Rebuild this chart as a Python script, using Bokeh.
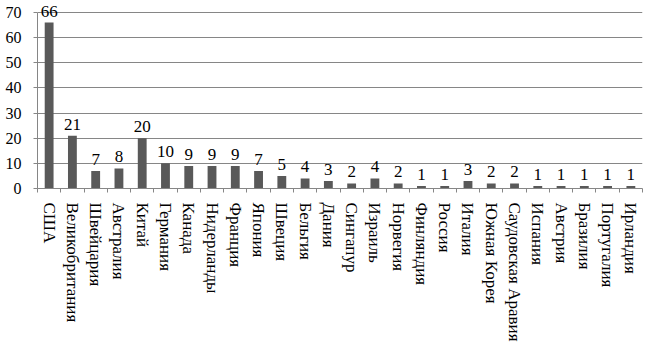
from bokeh.plotting import figure
from bokeh.models import ColumnDataSource, LabelSet, FixedTicker, Range1d
from bokeh.embed import file_html
from bokeh.resources import INLINE

countries = ["США", "Великобритания", "Швейцария", "Австралия", "Китай", "Германия",
             "Канада", "Нидерланды", "Франция", "Япония", "Швеция", "Бельгия", "Дания",
             "Сингапур", "Израиль", "Норвегия", "Финляндия", "Россия", "Италия",
             "Южная Корея", "Саудовская Аравия", "Испания", "Австрия", "Бразилия",
             "Португалия", "Ирландия"]
values = [66, 21, 7, 8, 20, 10, 9, 9, 9, 7, 5, 4, 3, 2, 4, 2, 1, 1, 3, 2, 2, 1, 1, 1, 1, 1]
y_ticks = [0, 10, 20, 30, 40, 50, 60, 70]

n = len(countries)
xs = list(range(1, n + 1))
src = ColumnDataSource(dict(x=xs, top=values, lab=[str(v) for v in values]))

FONT = "Liberation Serif"

p = figure(width=646, height=344, output_backend="svg", toolbar_location=None,
           x_range=Range1d(0.5, n + 0.5), y_range=Range1d(0, 74),
           min_border_left=37, min_border_right=4, min_border_top=2, min_border_bottom=0)
p.outline_line_color = None
p.background_fill_color = "white"
p.border_fill_color = "white"

p.vbar(x="x", top="top", width=0.38, source=src, fill_color="#595959", line_color=None)

labels = LabelSet(x="x", y="top", text="lab", source=src, text_align="center",
                  text_baseline="bottom", y_offset=6, text_font=FONT,
                  text_font_size="17px", text_color="black")
p.add_layout(labels)

# x axis
p.xaxis.ticker = FixedTicker(ticks=xs, minor_ticks=[i + 0.5 for i in range(0, n + 1)])
p.xaxis.major_label_overrides = {i: c for i, c in zip(xs, countries)}
p.xaxis.major_label_orientation = "vertical"
p.xaxis.major_tick_line_color = None
p.xaxis.minor_tick_line_color = "#868686"
p.xaxis.minor_tick_in = 0
p.xaxis.minor_tick_out = 4
p.xaxis.axis_line_color = "#868686"
p.xaxis.major_label_text_font = FONT
p.xaxis.major_label_text_font_size = "17px"
p.xaxis.major_label_text_color = "black"
p.xaxis.major_label_standoff = 8

# y axis
p.yaxis.ticker = FixedTicker(ticks=y_ticks)
p.yaxis.bounds = (0, 70)
p.yaxis.axis_line_color = "#868686"
p.yaxis.major_tick_line_color = "#868686"
p.yaxis.major_tick_in = 0
p.yaxis.major_tick_out = 4
p.yaxis.minor_tick_line_color = None
p.yaxis.major_label_text_font = FONT
p.yaxis.major_label_text_font_size = "16px"
p.yaxis.major_label_text_color = "black"
p.yaxis.major_label_standoff = 12

p.xgrid.grid_line_color = None
p.ygrid.grid_line_color = "#868686"
p.ygrid.grid_line_width = 1

open("out.html", "w").write(file_html(p, INLINE))
